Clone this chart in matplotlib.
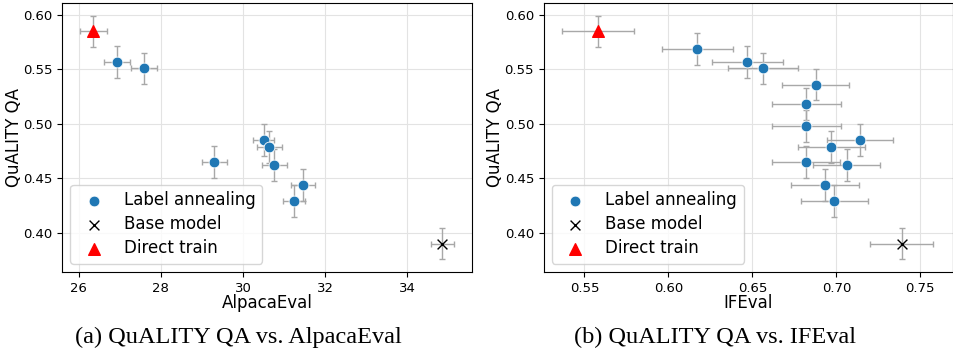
import matplotlib
matplotlib.use("Agg")
from matplotlib import pyplot as plt

# QuALITY QA accuracy (shared y) with error bars
la_qa_left = [0.557, 0.551, 0.465, 0.485, 0.479, 0.462, 0.444, 0.429]
la_qa_left_err = [0.0145, 0.0145, 0.0145, 0.0145, 0.0145, 0.0145, 0.0145, 0.0145]
la_alpaca = [26.93, 27.59, 29.30, 30.50, 30.64, 30.76, 31.47, 31.24]
la_alpaca_err = [0.32, 0.32, 0.31, 0.26, 0.30, 0.30, 0.29, 0.26]

la_qa_right = [0.569, 0.557, 0.551, 0.536, 0.518, 0.498, 0.485, 0.479, 0.465, 0.462, 0.444, 0.429]
la_qa_right_err = [0.0145] * 12
la_ifeval = [0.6173, 0.647, 0.6564, 0.6877, 0.6821, 0.6821, 0.7139, 0.697, 0.682, 0.7062, 0.6933, 0.6988]
la_ifeval_err = [0.0211, 0.021, 0.0207, 0.0201, 0.0204, 0.0204, 0.0197, 0.0198, 0.0204, 0.020, 0.020, 0.020]

base_qa, base_qa_err = 0.390, 0.0145
base_alpaca, base_alpaca_err = 34.85, 0.28
base_ifeval, base_ifeval_err = 0.739, 0.0188

direct_qa, direct_qa_err = 0.585, 0.0145
direct_alpaca, direct_alpaca_err = 26.35, 0.33
direct_ifeval, direct_ifeval_err = 0.5582, 0.0213

left_xticks = [26, 28, 30, 32, 34]
right_xticks = [0.55, 0.60, 0.65, 0.70, 0.75]
yticks = [0.40, 0.45, 0.50, 0.55, 0.60]

fig = plt.figure(figsize=(9.54, 3.53), dpi=100)
ax1 = fig.add_axes([0.065, 0.2295, 0.4298, 0.762])
ax2 = fig.add_axes([0.570, 0.2295, 0.429, 0.762])

err_kw = dict(fmt='none', ecolor='#a8a8a8', elinewidth=1, capsize=2, capthick=1, zorder=2)


def panel(ax, la_x, la_xerr, la_y, la_yerr, bx, bxerr, dx, dxerr, xlabel, xticks, xlim, tfmt):
    ax.errorbar(la_x, la_y, xerr=la_xerr, yerr=la_yerr, **err_kw)
    ax.errorbar([bx], [base_qa], xerr=[bxerr], yerr=[base_qa_err], **err_kw)
    ax.errorbar([dx], [direct_qa], xerr=[dxerr], yerr=[direct_qa_err], **err_kw)
    ax.scatter(la_x, la_y, s=60, color='#1f77b4', edgecolor='white', linewidth=0.6,
               label='Label annealing', zorder=3)
    ax.scatter([bx], [base_qa], s=50, marker='x', color='black', linewidth=1,
               label='Base model', zorder=3)
    ax.scatter([dx], [direct_qa], s=70, marker='^', color='red',
               label='Direct train', zorder=3)
    ax.set_xlim(*xlim)
    ax.set_ylim(0.364, 0.611)
    ax.set_xticks(xticks)
    ax.set_xticklabels([tfmt.format(t) for t in xticks])
    ax.set_yticks(yticks)
    ax.set_yticklabels(['{:.2f}'.format(t) for t in yticks])
    ax.tick_params(labelsize=9.5)
    ax.grid(True, color='#e3e3e3', linewidth=0.8)
    ax.set_axisbelow(True)
    ax.set_xlabel(xlabel, fontsize=12)
    ax.set_ylabel('QuALITY QA', fontsize=12)
    ax.xaxis.set_label_coords(0.5, -0.082)
    ax.legend(loc='lower left', fontsize=12, labelspacing=0.35)


panel(ax1, la_alpaca, la_alpaca_err, la_qa_left, la_qa_left_err,
      base_alpaca, base_alpaca_err, direct_alpaca, direct_alpaca_err,
      'AlpacaEval', left_xticks, (25.59, 35.58), '{:d}')
panel(ax2, la_ifeval, la_ifeval_err, la_qa_right, la_qa_right_err,
      base_ifeval, base_ifeval_err, direct_ifeval, direct_ifeval_err,
      'IFEval', right_xticks, (0.5258, 0.7695), '{:.2f}')
ax1.yaxis.set_label_coords(-0.095, 0.5)
ax2.yaxis.set_label_coords(-0.098, 0.5)

fig.text(0.25, 0.045, '(a) QuALITY QA vs. AlpacaEval', ha='center', va='center',
         family='Liberation Serif', fontsize=17.5)
fig.text(0.75, 0.045, '(b) QuALITY QA vs. IFEval', ha='center', va='center',
         family='Liberation Serif', fontsize=17.5)

plt.savefig('out.png', dpi=100)
